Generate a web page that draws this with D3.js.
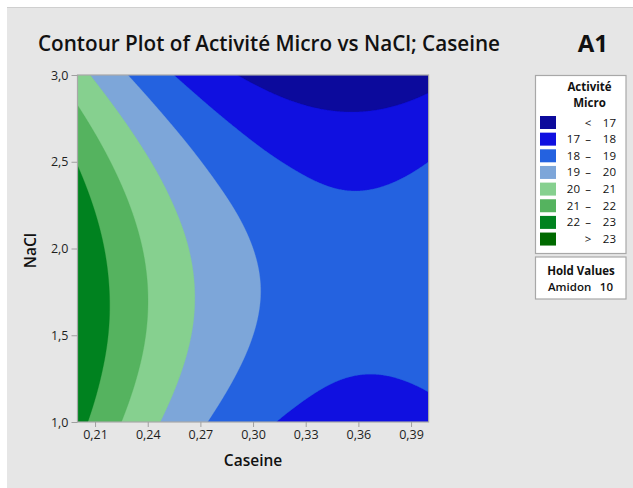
<!DOCTYPE html>
<html>
<head>
<meta charset="utf-8">
<script src="https://cdn.jsdelivr.net/npm/d3@7"></script>
<style>
  html, body { margin: 0; padding: 0; background: #ffffff; }
  svg { display: block; }
  text { font-family: "Open Sans", "Noto Sans", "DejaVu Sans", sans-serif; }
</style>
</head>
<body>
<svg id="chart" width="633" height="488"></svg>
<script>
// ---------------- data ----------------
const caseine = [0.200, 0.225, 0.250, 0.275, 0.300, 0.325, 0.350, 0.375, 0.400];
const nacl = [1.00, 1.25, 1.50, 1.75, 2.00, 2.25, 2.50, 2.75, 3.00];
// Activité Micro, one row per NaCl value (ascending), one column per Caseine value
const activite = [
  [22.33, 21.00, 19.88, 18.97, 18.28, 17.80, 17.53, 17.47, 17.63],
  [22.72, 21.40, 20.30, 19.41, 18.73, 18.27, 18.01, 17.97, 18.14],
  [22.93, 21.63, 20.54, 19.67, 19.00, 18.55, 18.32, 18.29, 18.48],
  [22.95, 21.67, 20.60, 19.74, 19.09, 18.66, 18.44, 18.43, 18.63],
  [22.80, 21.53, 20.48, 19.63, 19.00, 18.58, 18.38, 18.38, 18.60],
  [22.46, 21.21, 20.17, 19.34, 18.73, 18.32, 18.13, 18.16, 18.39],
  [21.95, 20.71, 19.69, 18.87, 18.27, 17.89, 17.71, 17.75, 18.00],
  [21.25, 20.03, 19.02, 18.22, 17.64, 17.27, 17.11, 17.16, 17.42],
  [20.37, 19.16, 18.17, 17.39, 16.82, 16.46, 16.32, 16.39, 16.67]
];
const levels = [17, 18, 19, 20, 21, 22, 23];
const legendLabels = [["", "<", "17"], ["17", "–", "18"], ["18", "–", "19"], ["19", "–", "20"],
                      ["20", "–", "21"], ["21", "–", "22"], ["22", "–", "23"], ["", ">", "23"]];
const bandColors = ["#0C0A9C", "#1010E0", "#2462E0", "#7DA6D9", "#86D08F", "#55B35F", "#00821F", "#006A00"];
const xTicks = [0.21, 0.24, 0.27, 0.30, 0.33, 0.36, 0.39];
const yTicks = [1.0, 1.5, 2.0, 2.5, 3.0];
const titleText = "Contour Plot of Activité Micro vs NaCl; Caseine";
const cornerText = "A1";
const xTitle = "Caseine";
const yTitle = "NaCl";
const legendTitle = ["Activité", "Micro"];
const holdTitle = "Hold Values";
const holdName = "Amidon";
const holdValue = "10";

// ---------------- layout ----------------
const svg = d3.select("#chart");
const W = 633, H = 488;
const plot = { left: 77.5, right: 428.6, top: 75, bottom: 422 };

svg.append("rect").attr("x", 0).attr("y", 0).attr("width", W).attr("height", H).attr("fill", "#ffffff");
svg.append("rect").attr("x", 7).attr("y", 8).attr("width", W - 7).attr("height", H - 8).attr("fill", "#E6E6E6");
svg.append("line").attr("x1", 7).attr("x2", W).attr("y1", 7.5).attr("y2", 7.5).attr("stroke", "#CFCFCF");

const x = d3.scaleLinear().domain([d3.min(caseine), d3.max(caseine)]).range([plot.left, plot.right]);
const y = d3.scaleLinear().domain([d3.min(nacl), d3.max(nacl)]).range([plot.bottom, plot.top]);

// ---------------- smooth resampling of the grid (cubic convolution) ----------------
const nC = caseine.length, nN = nacl.length;
function val(i, j) {
  if (i < 0) return 3 * val(0, j) - 3 * val(1, j) + val(2, j);
  if (i > nC - 1) return 3 * val(nC - 1, j) - 3 * val(nC - 2, j) + val(nC - 3, j);
  if (j < 0) return 3 * val(i, 0) - 3 * val(i, 1) + val(i, 2);
  if (j > nN - 1) return 3 * val(i, nN - 1) - 3 * val(i, nN - 2) + val(i, nN - 3);
  return activite[j][i];
}
function cub(p0, p1, p2, p3, t) {
  return p1 + 0.5 * t * (p2 - p0 + t * (2 * p0 - 5 * p1 + 4 * p2 - p3 + t * (3 * (p1 - p2) + p3 - p0)));
}
function sample(gx, gy) {
  const i = Math.min(Math.floor(gx), nC - 2), j = Math.min(Math.floor(gy), nN - 2);
  const tx = gx - i, ty = gy - j;
  const rows = [];
  for (let dj = -1; dj <= 2; dj++) {
    rows.push(cub(val(i - 1, j + dj), val(i, j + dj), val(i + 1, j + dj), val(i + 2, j + dj), tx));
  }
  return cub(rows[0], rows[1], rows[2], rows[3], ty);
}
const NX = 352, NY = 348;
const cStep = (caseine[nC - 1] - caseine[0]) / (nC - 1);
const nStep = (nacl[nN - 1] - nacl[0]) / (nN - 1);
const values = new Float64Array(NX * NY);
for (let r = 0; r < NY; r++) {
  const nv = nacl[nN - 1] - r / (NY - 1) * (nacl[nN - 1] - nacl[0]);
  const gy = (nv - nacl[0]) / nStep;
  for (let c = 0; c < NX; c++) {
    const cv = caseine[0] + c / (NX - 1) * (caseine[nC - 1] - caseine[0]);
    const gx = (cv - caseine[0]) / cStep;
    values[r * NX + c] = sample(gx, gy);
  }
}
const contours = d3.contours().size([NX, NY]).thresholds(levels)(values);
const proj = d3.geoTransform({
  point: function (cx, cy) {
    const cv = caseine[0] + (cx - 0.5) / (NX - 1) * (caseine[nC - 1] - caseine[0]);
    const nv = nacl[nN - 1] - (cy - 0.5) / (NY - 1) * (nacl[nN - 1] - nacl[0]);
    this.stream.point(x(cv), y(nv));
  }
});
const path = d3.geoPath(proj);

svg.append("clipPath").attr("id", "clip").append("rect")
  .attr("x", plot.left).attr("y", plot.top)
  .attr("width", plot.right - plot.left).attr("height", plot.bottom - plot.top);

const g = svg.append("g").attr("clip-path", "url(#clip)");
g.append("rect").attr("x", plot.left).attr("y", plot.top)
  .attr("width", plot.right - plot.left).attr("height", plot.bottom - plot.top)
  .attr("fill", bandColors[0]);
g.selectAll("path.band").data(contours).join("path")
  .attr("class", "band")
  .attr("d", path)
  .attr("fill", (d, i) => bandColors[i + 1])
  .attr("stroke", (d, i) => bandColors[i + 1])
  .attr("stroke-width", 0.3);

// frame
svg.append("rect").attr("x", plot.left).attr("y", plot.top)
  .attr("width", plot.right - plot.left).attr("height", plot.bottom - plot.top)
  .attr("fill", "none").attr("stroke", "#A8A8A8").attr("stroke-width", 1.2);

// axes
const fmt = d => d.toFixed(d < 1 ? 2 : 1).replace(".", ",");
const xAxis = svg.append("g").attr("transform", `translate(0,${plot.bottom})`)
  .call(d3.axisBottom(x).tickValues(xTicks).tickFormat(fmt).tickSize(5).tickPadding(3).tickSizeOuter(0));
const yAxis = svg.append("g").attr("transform", `translate(${plot.left},0)`)
  .call(d3.axisLeft(y).tickValues(yTicks).tickFormat(fmt).tickSize(6).tickPadding(3).tickSizeOuter(0));
[xAxis, yAxis].forEach(a => {
  a.select(".domain").remove();
  a.selectAll(".tick line").attr("stroke", "#A0A0A0");
  a.selectAll(".tick text").attr("fill", "#1E1E1E").style("font-size", "12.5px")
    .style("font-family", '"Open Sans", "Noto Sans", sans-serif');
});

// titles
svg.append("text").attr("x", 38).attr("y", 51).text(titleText)
  .attr("textLength", 462).attr("lengthAdjust", "spacingAndGlyphs")
  .attr("fill", "#111").style("font-size", "21px").style("font-weight", 600);
svg.append("text").attr("x", 608).attr("y", 52).attr("text-anchor", "end").text(cornerText)
  .attr("fill", "#111").style("font-size", "24px").style("font-weight", 700);
svg.append("text").attr("x", (plot.left + plot.right) / 2).attr("y", 466).attr("text-anchor", "middle")
  .text(xTitle).attr("fill", "#111").style("font-size", "15.5px").style("font-weight", 600);
svg.append("text").attr("transform", `translate(36,${(plot.top + plot.bottom) / 2 + 2}) rotate(-90)`)
  .attr("text-anchor", "middle").text(yTitle).attr("fill", "#111")
  .style("font-size", "15.5px").style("font-weight", 600);

// legend
const lg = svg.append("g");
lg.append("rect").attr("x", 535.5).attr("y", 75.5).attr("width", 90.5).attr("height", 178)
  .attr("fill", "#fff").attr("stroke", "#A8A8A8").attr("stroke-width", 1.2);
legendTitle.forEach((t, i) => lg.append("text").attr("x", 589.5).attr("y", 91 + i * 16)
  .attr("text-anchor", "middle").text(t).attr("fill", "#111")
  .style("font-size", "11.5px").style("font-weight", 700));
const rowStep = 16.65;
legendLabels.forEach((lab, i) => {
  const top = 116 + i * rowStep;
  lg.append("rect").attr("x", 540).attr("y", top).attr("width", 16).attr("height", 13)
    .attr("fill", bandColors[i]);
  const ty = top + 10.5;
  lg.append("text").attr("x", 580).attr("y", ty).attr("text-anchor", "end").text(lab[0])
    .attr("fill", "#111").style("font-size", "11.5px");
  lg.append("text").attr("x", 588).attr("y", ty).attr("text-anchor", "middle").text(lab[1])
    .attr("fill", "#111").style("font-size", "11.5px");
  lg.append("text").attr("x", 616).attr("y", ty).attr("text-anchor", "end").text(lab[2])
    .attr("fill", "#111").style("font-size", "11.5px");
});
lg.append("rect").attr("x", 535.5).attr("y", 257).attr("width", 90.5).attr("height", 42)
  .attr("fill", "#fff").attr("stroke", "#A8A8A8").attr("stroke-width", 1.2);
lg.append("text").attr("x", 581).attr("y", 275).attr("text-anchor", "middle").text(holdTitle)
  .attr("fill", "#111").style("font-size", "11.5px").style("font-weight", 700);
lg.append("text").attr("x", 548).attr("y", 291).attr("text-anchor", "start").text(holdName)
  .attr("fill", "#111").style("font-size", "11.5px").style("font-weight", 600);
lg.append("text").attr("x", 613).attr("y", 291).attr("text-anchor", "end").text(holdValue)
  .attr("fill", "#111").style("font-size", "11.5px").style("font-weight", 600);
</script>
</body>
</html>
